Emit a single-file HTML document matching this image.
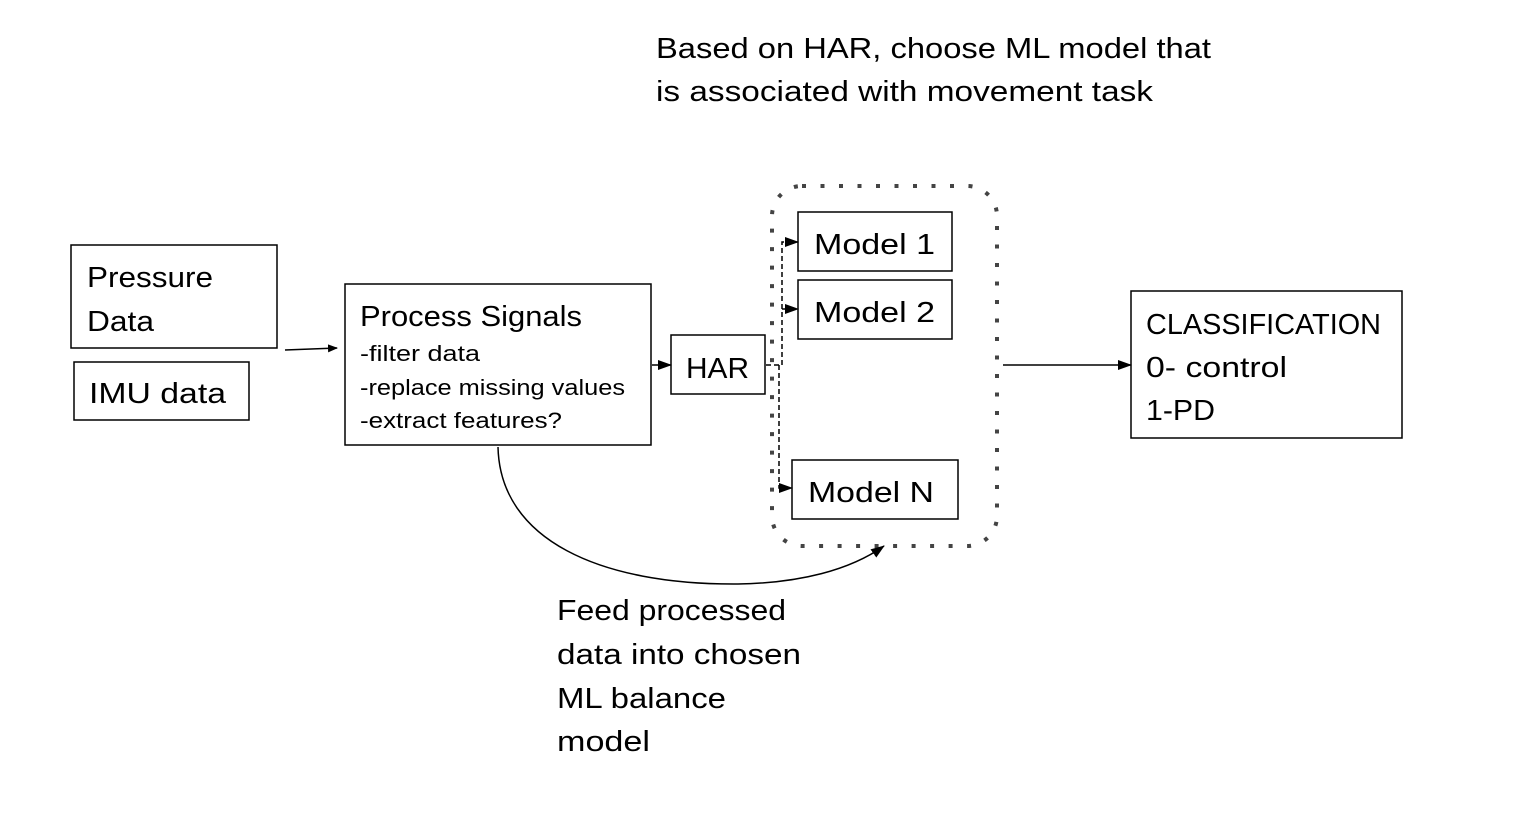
<!DOCTYPE html>
<html><head><meta charset="utf-8"><style>
html,body{margin:0;padding:0;background:#fff;}
svg{display:block;}
text{font-family:"Liberation Sans",Arial,sans-serif;fill:#000;}
</style></head><body>
<svg width="1524" height="823" viewBox="0 0 1524 823" xmlns="http://www.w3.org/2000/svg">
<defs>
<marker id="a" markerWidth="10" markerHeight="8" refX="9" refY="4" orient="auto" markerUnits="userSpaceOnUse">
<path d="M0,0 L10,4 L0,8 z" fill="#000"/></marker>
<marker id="b" markerWidth="14" markerHeight="10" refX="13" refY="5" orient="auto" markerUnits="userSpaceOnUse">
<path d="M0,0 L14,5 L0,10 z" fill="#000"/></marker>
</defs>
<g font-size="29">
<text x="656" y="58" textLength="555" lengthAdjust="spacingAndGlyphs">Based on HAR, choose ML model that</text>
<text x="656" y="101" textLength="497" lengthAdjust="spacingAndGlyphs">is associated with movement task</text>
</g>
<g fill="#fff" stroke="#000" stroke-width="1.5">
<rect x="71" y="245" width="206" height="103"/>
<rect x="74" y="362" width="175" height="58"/>
<rect x="345" y="284" width="306" height="161"/>
<rect x="671" y="335" width="94" height="59"/>
<rect x="798" y="212" width="154" height="59"/>
<rect x="798" y="280" width="154" height="59"/>
<rect x="792" y="460" width="166" height="59"/>
<rect x="1131" y="291" width="271" height="147"/>
</g>
<rect x="772" y="186" width="225" height="360" rx="30" ry="30" fill="none" stroke="#444" stroke-width="4" stroke-dasharray="4,14.5"/>
<g font-size="29">
<text x="87" y="287" textLength="126" lengthAdjust="spacingAndGlyphs">Pressure</text>
<text x="87" y="331" textLength="67" lengthAdjust="spacingAndGlyphs">Data</text>
<text x="89" y="403" textLength="137" lengthAdjust="spacingAndGlyphs">IMU data</text>
<text x="360" y="326" textLength="222" lengthAdjust="spacingAndGlyphs">Process Signals</text>
<text x="686" y="378" textLength="63" lengthAdjust="spacingAndGlyphs">HAR</text>
<text x="814" y="254" textLength="121" lengthAdjust="spacingAndGlyphs">Model 1</text>
<text x="814" y="322" textLength="121" lengthAdjust="spacingAndGlyphs">Model 2</text>
<text x="808" y="502" textLength="126" lengthAdjust="spacingAndGlyphs">Model N</text>
<text x="1146" y="334" textLength="235" lengthAdjust="spacingAndGlyphs">CLASSIFICATION</text>
<text x="1146" y="377" textLength="141" lengthAdjust="spacingAndGlyphs">0- control</text>
<text x="1146" y="420" textLength="69" lengthAdjust="spacingAndGlyphs">1-PD</text>
<text x="557" y="620" textLength="229" lengthAdjust="spacingAndGlyphs">Feed processed</text>
<text x="557" y="664" textLength="244" lengthAdjust="spacingAndGlyphs">data into chosen</text>
<text x="557" y="708" textLength="169" lengthAdjust="spacingAndGlyphs">ML balance</text>
<text x="557" y="751" textLength="93" lengthAdjust="spacingAndGlyphs">model</text>
</g>
<g font-size="22">
<text x="360" y="361" textLength="120" lengthAdjust="spacingAndGlyphs">-filter data</text>
<text x="360" y="395" textLength="265" lengthAdjust="spacingAndGlyphs">-replace missing values</text>
<text x="360" y="428" textLength="202" lengthAdjust="spacingAndGlyphs">-extract features?</text>
</g>
<g fill="none" stroke="#000" stroke-width="1.5">
<line x1="285" y1="350" x2="337" y2="348" marker-end="url(#a)"/>
<line x1="652" y1="365" x2="671" y2="365" marker-end="url(#b)"/>
<line x1="1003" y1="365" x2="1131" y2="365" marker-end="url(#b)"/>
<g stroke-dasharray="5,3">
<path d="M766,365 H782 V242 H798" marker-end="url(#b)"/>
<path d="M782,309 H798" marker-end="url(#b)"/>
<path d="M779,365 V488 H792" marker-end="url(#b)"/>
</g>
<path d="M498,447 C500,540 600,585 738,584 C800,583 850,570 884,546" marker-end="url(#b)"/>
</g>
</svg>
</body></html>
